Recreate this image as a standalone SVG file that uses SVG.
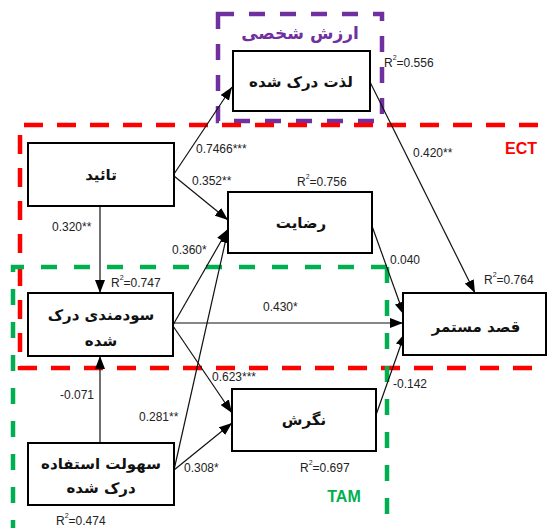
<svg xmlns="http://www.w3.org/2000/svg" width="548" height="528" viewBox="0 0 548 528">
<style>
.bg{fill:#ffffff}
.node{fill:#ffffff;stroke:#000;stroke-width:2}
.nt{font-family:"DejaVu Sans","Noto Sans",sans-serif;font-weight:bold;font-size:15px;fill:#111;text-anchor:middle;dominant-baseline:central}
.edge{stroke:#111;stroke-width:1.2;fill:none;marker-end:url(#ah)}
.lbl{font-family:"Liberation Sans",Arial,sans-serif;font-size:12px;fill:#222}
.sup{font-size:7px}
.grp{fill:none;stroke-width:4.5}
.purple{stroke:#7030A0;stroke-dasharray:16 15}
.red{stroke:#FF0000;stroke-dasharray:19 14}
.green{stroke:#00B050;stroke-dasharray:16 17}
.gt{font-family:"Liberation Sans",Arial,sans-serif;font-weight:bold;font-size:16px}
.pt{font-family:"DejaVu Sans",sans-serif;font-weight:bold;font-size:17px;fill:#7030A0;text-anchor:middle;dominant-baseline:central}
</style>
<defs>
<marker id="ah" markerUnits="userSpaceOnUse" markerWidth="13" markerHeight="10" refX="13" refY="5" orient="auto">
<path d="M0,0 L13,5 L0,10 z" fill="#000"/>
</marker>
</defs>
<rect class="bg" x="0" y="0" width="548" height="528"/>
<g id="groups">
<rect class="grp purple" x="218" y="14" width="164" height="107"/>
<path class="grp red" d="M538,125 H20 V368 H540"/>
<path class="grp green" d="M387,267 H13 V530 M387,267 V530"/>
<text class="pt" x="300" y="33">ارزش شخصی</text>
<text class="gt" x="521" y="154" text-anchor="middle" fill="#FF0000">ECT</text>
<text class="gt" x="344" y="502" text-anchor="middle" fill="#00B050">TAM</text>
</g>
<g id="connectors">
<line class="edge" x1="174" y1="174" x2="232" y2="87"/>
<line class="edge" x1="174" y1="176" x2="228" y2="220"/>
<line class="edge" x1="173" y1="325" x2="228" y2="229"/>
<line class="edge" x1="174" y1="470" x2="228" y2="230"/>
<line class="edge" x1="173" y1="323" x2="403" y2="323"/>
<line class="edge" x1="173" y1="326" x2="232" y2="413"/>
<line class="edge" x1="174" y1="470" x2="232" y2="423"/>
<line class="edge" x1="372" y1="226" x2="404" y2="315"/>
<line class="edge" x1="376" y1="415" x2="405" y2="333"/>
<line class="edge" x1="370" y1="82" x2="475" y2="293"/>
<line class="edge" x1="100" y1="206" x2="100" y2="293"/>
<line class="edge" x1="100" y1="443" x2="100" y2="356"/>
<text class="lbl" x="196" y="153">0.7466***</text>
<text class="lbl" x="192" y="185">0.352**</text>
<text class="lbl" x="52" y="231">0.320**</text>
<text class="lbl" x="172" y="254">0.360*</text>
<text class="lbl" x="413" y="157">0.420**</text>
<text class="lbl" x="390" y="264">0.040</text>
<text class="lbl" x="263" y="311">0.430*</text>
<text class="lbl" x="212" y="381">0.623***</text>
<text class="lbl" x="393" y="388">-0.142</text>
<text class="lbl" x="60" y="399">-0.071</text>
<text class="lbl" x="139" y="421">0.281**</text>
<text class="lbl" x="184" y="472">0.308*</text>
<text class="lbl" x="384" y="67">R<tspan class="sup" dy="-7">2</tspan><tspan dy="7">=0.556</tspan></text>
<text class="lbl" x="297" y="186">R<tspan class="sup" dy="-7">2</tspan><tspan dy="7">=0.756</tspan></text>
<text class="lbl" x="111" y="287">R<tspan class="sup" dy="-7">2</tspan><tspan dy="7">=0.747</tspan></text>
<text class="lbl" x="484" y="284">R<tspan class="sup" dy="-7">2</tspan><tspan dy="7">=0.764</tspan></text>
<text class="lbl" x="300" y="472">R<tspan class="sup" dy="-7">2</tspan><tspan dy="7">=0.697</tspan></text>
<text class="lbl" x="56" y="525">R<tspan class="sup" dy="-7">2</tspan><tspan dy="7">=0.474</tspan></text>
</g>
<g id="n-lezat">
<rect class="node" x="233" y="51" width="137" height="60"/>
<text class="nt" x="301" y="82">لذت درک شده</text>
</g>
<g id="n-taeed">
<rect class="node" x="28" y="143" width="146" height="63"/>
<text class="nt" x="101" y="175">تائید</text>
</g>
<g id="n-rezayat">
<rect class="node" x="228" y="192" width="144" height="61"/>
<text class="nt" x="301" y="223">رضایت</text>
</g>
<g id="n-sudmandi">
<rect class="node" x="28" y="293" width="145" height="63"/>
<text class="nt" x="101" y="315">سودمندی درک</text>
<text class="nt" x="101" y="341">شده</text>
</g>
<g id="n-ghasd">
<rect class="node" x="403" y="293" width="143" height="62"/>
<text class="nt" x="476" y="327">قصد مستمر</text>
</g>
<g id="n-negaresh">
<rect class="node" x="232" y="389" width="144" height="62"/>
<text class="nt" x="304" y="420">نگرش</text>
</g>
<g id="n-sohoolat">
<rect class="node" x="28" y="443" width="146" height="62"/>
<text class="nt" x="101" y="464">سهولت استفاده</text>
<text class="nt" x="101" y="488">درک شده</text>
</g>
</svg>
